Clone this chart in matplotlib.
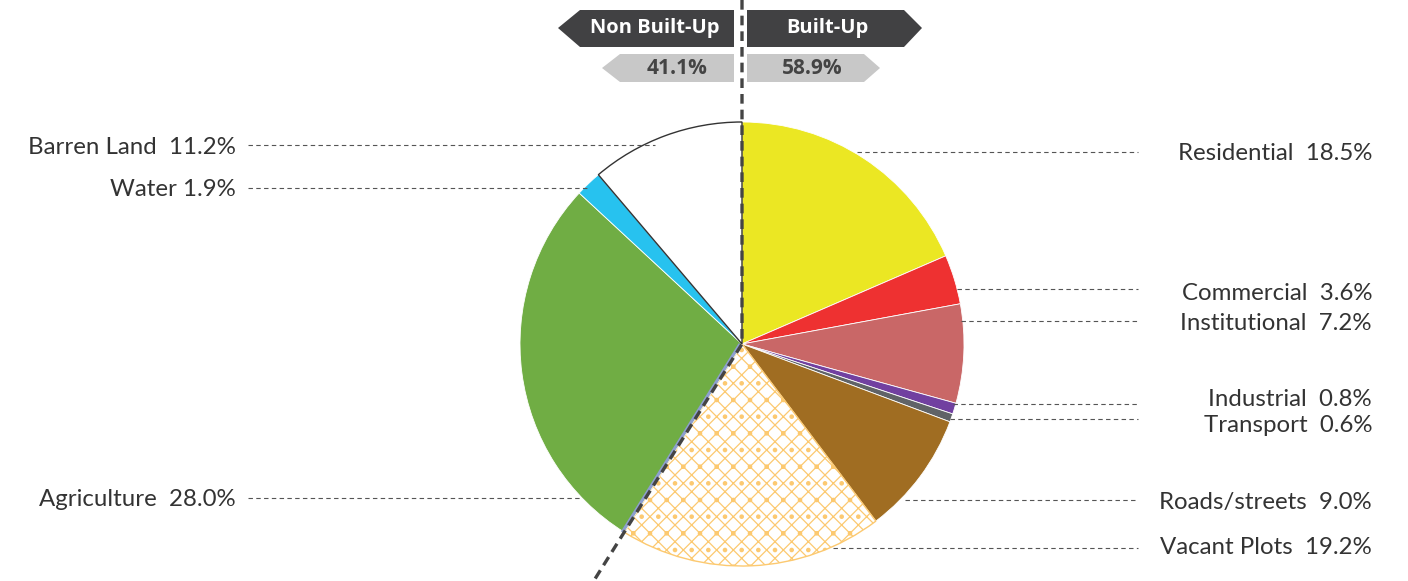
import numpy as np
import matplotlib
matplotlib.use('Agg')
import matplotlib.pyplot as plt
from matplotlib.patches import Polygon

# data
categories = ['Residential', 'Commercial', 'Institutional', 'Industrial', 'Transport',
              'Roads/streets', 'Vacant Plots', 'Agriculture', 'Water', 'Barren Land']
shares = [18.5, 3.6, 7.2, 0.8, 0.6, 9.0, 19.2, 28.0, 1.9, 11.2]
colors = ['#ebe723', '#ee3131', '#c96767', '#7140a0', '#606367',
          '#a06d22', 'white', '#70ad44', '#27c2ef', 'white']
group_names = ['Non Built-Up', 'Built-Up']
group_shares = [41.1, 58.9]

W, H = 1408, 581
def Y(py):
    return H - py

cx, cy, R = 742, 344, 222

fig = plt.figure(figsize=(W / 100, H / 100), dpi=100)
ax = fig.add_axes([0, 0, 1, 1])
plt.rcParams['hatch.linewidth'] = 0.9

wedges, _ = ax.pie(shares, colors=colors, startangle=90, counterclock=False,
                   center=(cx, Y(cy)), radius=R,
                   wedgeprops=dict(linewidth=0.6, edgecolor='white'))
# vacant plots: white with orange texture
wedges[6].set_edgecolor('#fcc970')
wedges[6].set_hatch('//\\\\.')
wedges[6].set_linewidth(1)
# barren land: white with dark outline
wedges[9].set_edgecolor('#333333')
wedges[9].set_linewidth(1)

# thin blue-grey edge between agriculture and vacant plots
built = sum(shares[:7])
ang = np.deg2rad(90 - built / 100 * 360)
ax.plot([cx - 2, cx - 2 + R * np.cos(ang)], [Y(cy), Y(cy) + R * np.sin(ang)],
        color='#8d9fcf', lw=2.2, solid_capstyle='butt', zorder=3)

# divider line
t = (H - cy) / -np.sin(ang)
ax.plot([cx, cx, cx + t * np.cos(ang)], [Y(0), Y(cy), Y(cy) + t * np.sin(ang)],
        color='#444444', lw=2.4, ls=(0, (2.9, 1.8)), zorder=4)

# labels with leader lines
label_font = ['Lato', 'DejaVu Sans']
left_labels = [('Barren Land  11.2%', 145, 655), ('Water 1.9%', 188, 587),
               ('Agriculture  28.0%', 498, 580)]
right_labels = [('Residential  18.5%', 152, 152, 857), ('Commercial  3.6%', 291, 289, 957),
                ('Institutional  7.2%', 321, 321, 961), ('Industrial  0.8%', 398, 404, 953),
                ('Transport  0.6%', 424, 419, 950), ('Roads/streets  9.0%', 500, 500, 905),
                ('Vacant Plots  19.2%', 545, 548, 833)]
lead = dict(color='#555555', lw=0.8, ls=(0, (4, 3)), zorder=2)
for txt, py, x1 in left_labels:
    ax.plot([248, x1], [Y(py), Y(py)], **lead)
    ax.text(236, Y(py + 2), txt, ha='right', va='center', fontsize=17.3,
            family=label_font, color='#333333')
for txt, ty, ly, x0 in right_labels:
    ax.plot([x0, 1138], [Y(ly), Y(ly)], **lead)
    ax.text(1372, Y(ty + 2), txt, ha='right', va='center', fontsize=17.3,
            family=label_font, color='#333333')

# header arrows
hdr_font = ['Open Sans', 'DejaVu Sans']
dark = '#414143'
light = '#c8c8c8'
ax.add_patch(Polygon([(558, Y(28)), (580, Y(10)), (734, Y(10)), (734, Y(47)), (580, Y(47))],
                     closed=True, color=dark, lw=0))
ax.add_patch(Polygon([(747, Y(10)), (904, Y(10)), (922, Y(28)), (904, Y(47)), (747, Y(47))],
                     closed=True, color=dark, lw=0))
ax.add_patch(Polygon([(602, Y(68)), (620, Y(54)), (734, Y(54)), (734, Y(82)), (620, Y(82))],
                     closed=True, color=light, lw=0))
ax.add_patch(Polygon([(747, Y(54)), (864, Y(54)), (880, Y(68)), (864, Y(82)), (747, Y(82))],
                     closed=True, color=light, lw=0))
ax.text(655, Y(28), group_names[0], ha='center', va='center', fontsize=14.5,
        fontweight='bold', family=hdr_font, color='white')
ax.text(827, Y(28), group_names[1], ha='center', va='center', fontsize=14.5,
        fontweight='bold', family=hdr_font, color='white')
ax.text(677, Y(69), f'{group_shares[0]}%', ha='center', va='center', fontsize=15,
        fontweight='bold', family=hdr_font, color='#444444')
ax.text(812, Y(69), f'{group_shares[1]}%', ha='center', va='center', fontsize=15,
        fontweight='bold', family=hdr_font, color='#444444')

ax.set_xlim(0, W)
ax.set_ylim(0, H)
ax.set_aspect('equal')
ax.axis('off')
fig.savefig('out.png', dpi=100, facecolor='white')
